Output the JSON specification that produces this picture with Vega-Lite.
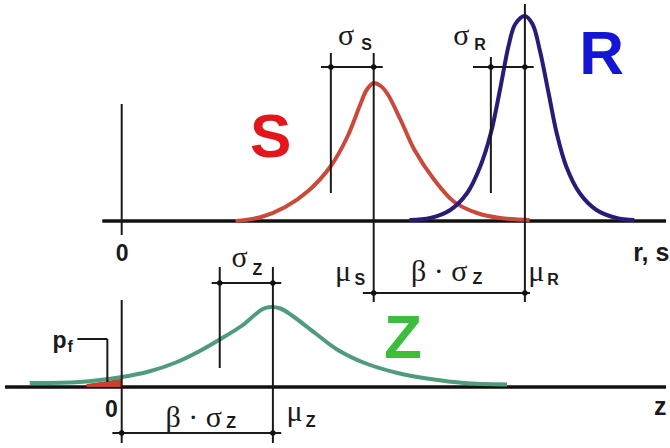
{
  "$schema": "https://vega.github.io/schema/vega-lite/v6.json",
  "width": 670,
  "height": 448,
  "autosize": {"type": "fit", "contains": "padding"},
  "padding": 0,
  "background": "white",
  "config": {"view": {"stroke": null}},
  "datasets": {
    "curves": [
      {"series": "S", "x": 4.52, "y": 16.6},
      {"series": "S", "x": 5.54, "y": 17.0},
      {"series": "S", "x": 6.49, "y": 18.0},
      {"series": "S", "x": 7.40, "y": 19.6},
      {"series": "S", "x": 8.30, "y": 22.1},
      {"series": "S", "x": 8.97, "y": 25.1},
      {"series": "S", "x": 9.49, "y": 28.4},
      {"series": "S", "x": 9.72, "y": 29.7},
      {"series": "S", "x": 10.0, "y": 30.4},
      {"series": "S", "x": 10.28, "y": 30.1},
      {"series": "S", "x": 10.55, "y": 29.3},
      {"series": "S", "x": 11.07, "y": 26.7},
      {"series": "S", "x": 11.62, "y": 23.7},
      {"series": "S", "x": 12.41, "y": 20.7},
      {"series": "S", "x": 13.20, "y": 18.5},
      {"series": "S", "x": 14.10, "y": 17.4},
      {"series": "S", "x": 15.01, "y": 16.9},
      {"series": "S", "x": 16.19, "y": 16.7},
      {"series": "R", "x": 11.42, "y": 16.7},
      {"series": "R", "x": 12.25, "y": 16.9},
      {"series": "R", "x": 13.04, "y": 17.7},
      {"series": "R", "x": 13.71, "y": 19.4},
      {"series": "R", "x": 14.22, "y": 22.0},
      {"series": "R", "x": 14.65, "y": 25.4},
      {"series": "R", "x": 15.01, "y": 29.7},
      {"series": "R", "x": 15.36, "y": 34.2},
      {"series": "R", "x": 15.62, "y": 36.3},
      {"series": "R", "x": 16.0, "y": 37.1},
      {"series": "R", "x": 16.3, "y": 36.3},
      {"series": "R", "x": 16.59, "y": 33.7},
      {"series": "R", "x": 16.94, "y": 29.4},
      {"series": "R", "x": 17.26, "y": 25.4},
      {"series": "R", "x": 17.65, "y": 22.0},
      {"series": "R", "x": 18.17, "y": 19.4},
      {"series": "R", "x": 18.84, "y": 17.7},
      {"series": "R", "x": 19.63, "y": 16.9},
      {"series": "R", "x": 20.34, "y": 16.7},
      {"series": "Z", "x": -3.65, "y": 0.4},
      {"series": "Z", "x": -1.68, "y": 0.5},
      {"series": "Z", "x": 0.0, "y": 1.0},
      {"series": "Z", "x": 1.08, "y": 1.55},
      {"series": "Z", "x": 2.15, "y": 2.45},
      {"series": "Z", "x": 3.06, "y": 3.55},
      {"series": "Z", "x": 3.89, "y": 4.75},
      {"series": "Z", "x": 4.75, "y": 6.1},
      {"series": "Z", "x": 5.3, "y": 7.25},
      {"series": "Z", "x": 5.6, "y": 7.8},
      {"series": "Z", "x": 5.9, "y": 8.0},
      {"series": "Z", "x": 6.3, "y": 7.85},
      {"series": "Z", "x": 6.73, "y": 7.2},
      {"series": "Z", "x": 7.67, "y": 5.4},
      {"series": "Z", "x": 8.58, "y": 3.7},
      {"series": "Z", "x": 9.64, "y": 2.4},
      {"series": "Z", "x": 10.95, "y": 1.4},
      {"series": "Z", "x": 12.25, "y": 0.8},
      {"series": "Z", "x": 13.59, "y": 0.4},
      {"series": "Z", "x": 15.29, "y": 0.25}
    ],
    "failure": [
      {"x": -1.4, "y": 0.3},
      {"x": -0.7, "y": 0.55},
      {"x": 0.0, "y": 0.85}
    ],
    "axes": [
      {"x": -0.77, "y": 16.6, "x2": 21.6, "y2": 16.6},
      {"x": -4.63, "y": 0.0, "x2": 21.6, "y2": 0.0}
    ],
    "guides": [
      {"x": 0.0, "y": 28.3, "x2": 0.0, "y2": 15.2},
      {"x": 0.0, "y": 8.7, "x2": 0.0, "y2": -5.6},
      {"x": 10.0, "y": 33.4, "x2": 10.0, "y2": 8.5},
      {"x": 16.0, "y": 38.3, "x2": 16.0, "y2": 8.5},
      {"x": 8.3, "y": 33.4, "x2": 8.3, "y2": 19.4},
      {"x": 14.65, "y": 33.0, "x2": 14.65, "y2": 19.4},
      {"x": 7.91, "y": 32.0, "x2": 10.36, "y2": 32.0},
      {"x": 13.94, "y": 32.0, "x2": 16.35, "y2": 32.0},
      {"x": 9.57, "y": 9.4, "x2": 16.2, "y2": 9.4},
      {"x": 3.57, "y": 10.4, "x2": 6.33, "y2": 10.4},
      {"x": 3.89, "y": 12.0, "x2": 3.89, "y2": 1.9},
      {"x": 6.0, "y": 12.0, "x2": 6.0, "y2": -5.6},
      {"x": -0.37, "y": -4.6, "x2": 6.33, "y2": -4.6},
      {"x": -1.76, "y": 4.8, "x2": -0.57, "y2": 4.8},
      {"x": -0.57, "y": 4.8, "x2": -0.57, "y2": 0.5}
    ],
    "dots": [
      {"x": 8.3, "y": 32.0},
      {"x": 10.0, "y": 32.0},
      {"x": 14.65, "y": 32.0},
      {"x": 16.0, "y": 32.0},
      {"x": 10.0, "y": 9.4},
      {"x": 16.0, "y": 9.4},
      {"x": 3.89, "y": 10.4},
      {"x": 6.0, "y": 10.4},
      {"x": 0.0, "y": -4.6},
      {"x": 6.0, "y": -4.6}
    ],
    "bigLetters": [
      {"label": "S", "x": 5.91, "y": 23.0},
      {"label": "R", "x": 19.05, "y": 31.3},
      {"label": "Z", "x": 11.16, "y": 2.9}
    ],
    "symbols": [
      {"label": "σ", "x": 8.9, "y": 34.2},
      {"label": "σ", "x": 13.48, "y": 34.2},
      {"label": "μ", "x": 8.78, "y": 10.6},
      {"label": "β · σ", "x": 12.6, "y": 10.6},
      {"label": "μ", "x": 16.45, "y": 10.6},
      {"label": "σ", "x": 4.68, "y": 12.0},
      {"label": "β · σ", "x": 2.86, "y": -4.0},
      {"label": "μ", "x": 6.86, "y": -3.4}
    ],
    "subscripts": [
      {"label": "S", "x": 9.72, "y": 33.7},
      {"label": "R", "x": 14.22, "y": 33.7},
      {"label": "S", "x": 9.45, "y": 10.2},
      {"label": "Z", "x": 14.12, "y": 10.3},
      {"label": "R", "x": 17.12, "y": 10.2},
      {"label": "Z", "x": 5.38, "y": 11.2},
      {"label": "Z", "x": 4.34, "y": -4.1},
      {"label": "Z", "x": 7.5, "y": -4.0},
      {"label": "f", "x": -2.05, "y": 3.5}
    ],
    "centerLabels": [
      {"label": "0", "x": 0.02, "y": 12.6},
      {"label": "0", "x": -0.41, "y": -3.0},
      {"label": "p", "x": -2.47, "y": 3.9}
    ],
    "axisNames": [
      {"label": "r, s", "x": 20.3, "y": 12.6},
      {"label": "z", "x": 21.12, "y": -2.8}
    ]
  },
  "encoding": {
    "x": {"field": "x", "type": "quantitative", "scale": {"domain": [-4.83, 21.6], "nice": false, "zero": false}, "axis": null},
    "y": {"field": "y", "type": "quantitative", "scale": {"domain": [-6.1, 38.7], "nice": false, "zero": false}, "axis": null}
  },
  "resolve": {"scale": {"color": "independent"}},
  "layer": [
    {
      "data": {"name": "axes"},
      "mark": {"type": "rule", "color": "#111111", "strokeWidth": 3.5},
      "encoding": {"x2": {"field": "x2"}, "y2": {"field": "y2"}}
    },
    {
      "data": {"name": "failure"},
      "mark": {"type": "area", "color": "#c9402e", "interpolate": "monotone"},
      "encoding": {"y2": {"datum": 0}}
    },
    {
      "data": {"name": "curves"},
      "mark": {"type": "line", "strokeWidth": 4, "interpolate": "catmull-rom", "strokeCap": "butt"},
      "encoding": {
        "color": {"field": "series", "type": "nominal", "scale": {"domain": ["S", "R", "Z"], "range": ["#c94a3b", "#2b1a78", "#4f9c7c"]}, "legend": null},
        "detail": {"field": "series"}
      }
    },
    {
      "data": {"name": "guides"},
      "mark": {"type": "rule", "color": "#1a1a1a", "strokeWidth": 2},
      "encoding": {"x2": {"field": "x2"}, "y2": {"field": "y2"}}
    },
    {
      "data": {"name": "dots"},
      "mark": {"type": "point", "filled": true, "color": "#111111", "size": 30, "opacity": 1}
    },
    {
      "data": {"name": "bigLetters"},
      "mark": {"type": "text", "font": "Liberation Sans", "fontWeight": "bold", "fontSize": 62, "align": "center", "baseline": "alphabetic"},
      "encoding": {
        "text": {"field": "label"},
        "color": {"field": "label", "type": "nominal", "scale": {"domain": ["S", "R", "Z"], "range": ["#e2161b", "#1515d6", "#3dbd3d"]}, "legend": null}
      }
    },
    {
      "data": {"name": "symbols"},
      "mark": {"type": "text", "font": "Liberation Serif", "fontSize": 30, "color": "#1a1a1a", "align": "center", "baseline": "alphabetic"},
      "encoding": {"text": {"field": "label"}}
    },
    {
      "data": {"name": "subscripts"},
      "mark": {"type": "text", "font": "Liberation Sans", "fontWeight": "bold", "fontSize": 16, "color": "#1a1a1a", "align": "center", "baseline": "alphabetic"},
      "encoding": {"text": {"field": "label"}}
    },
    {
      "data": {"name": "centerLabels"},
      "mark": {"type": "text", "font": "Liberation Sans", "fontWeight": "bold", "fontSize": 23, "color": "#1a1a1a", "align": "center", "baseline": "alphabetic"},
      "encoding": {"text": {"field": "label"}}
    },
    {
      "data": {"name": "axisNames"},
      "mark": {"type": "text", "font": "Liberation Sans", "fontWeight": "bold", "fontSize": 25, "color": "#1a1a1a", "align": "left", "baseline": "alphabetic"},
      "encoding": {"text": {"field": "label"}}
    }
  ]
}
